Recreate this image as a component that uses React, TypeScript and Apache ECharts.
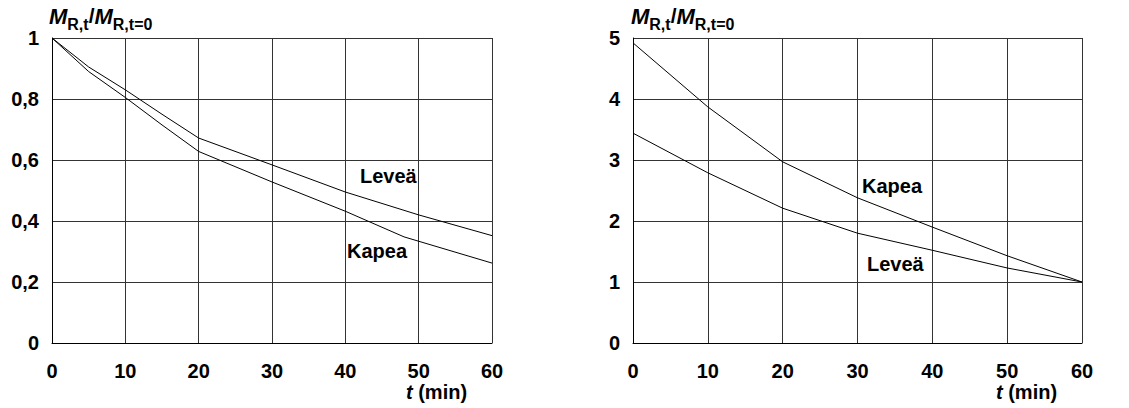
import React, { useEffect, useRef } from "react";
import * as echarts from "echarts";

const xTicks = [0, 10, 20, 30, 40, 50, 60];
const timeLeftLevea = [0, 5, 10, 15, 20, 30, 40, 50, 60];
const leftLevea = [1, 0.905, 0.83, 0.75, 0.672, 0.584, 0.495, 0.42, 0.352];
const timeLeftKapea = [0, 5, 10, 15, 20, 30, 40, 48, 60];
const leftKapea = [1, 0.89, 0.805, 0.715, 0.628, 0.528, 0.432, 0.348, 0.262];
const timeRight = [0, 10, 20, 30, 40, 50, 60];
const rightKapea = [4.92, 3.87, 2.97, 2.38, 1.9, 1.43, 1.0];
const rightLevea = [3.44, 2.79, 2.21, 1.8, 1.52, 1.23, 1.0];

const FONT = "Liberation Sans, Arial, sans-serif";

const pairs = (xs: number[], ys: number[]) => xs.map((x, i) => [x, ys[i]]);

export default function App() {
  const ref = useRef<HTMLDivElement>(null);
  useEffect(() => {
    const chart = echarts.init(ref.current!, null, { renderer: "svg" });
    const xAxisBase = (gridIndex: number) => ({
      type: "value",
      gridIndex,
      min: xTicks[0],
      max: xTicks[xTicks.length - 1],
      interval: xTicks[1] - xTicks[0],
      axisLine: { show: true, lineStyle: { color: "#000", width: 1 } },
      axisTick: { show: false },
      splitLine: { show: true, lineStyle: { color: "#333", width: 1 } },
      axisLabel: { color: "#000", fontFamily: FONT, fontWeight: "bold", fontSize: 20, margin: 18 },
    });
    const yAxisBase = (gridIndex: number, max: number, interval: number, fmt: (v: number) => string) => ({
      type: "value",
      gridIndex,
      min: 0,
      max,
      interval,
      axisLine: { show: true, lineStyle: { color: "#000", width: 1 } },
      axisTick: { show: false },
      splitLine: { show: true, lineStyle: { color: "#333", width: 1 } },
      axisLabel: { color: "#000", fontFamily: FONT, fontWeight: "bold", fontSize: 20, margin: 13, formatter: fmt },
    });
    const lineSeries = (name: string, xi: number, data: number[][]) => ({
      type: "line",
      name,
      xAxisIndex: xi,
      yAxisIndex: xi,
      data,
      showSymbol: false,
      symbol: "none",
      lineStyle: { color: "#000", width: 1 },
    });
    const richYName = {
      M: { fontFamily: FONT, fontStyle: "italic", fontWeight: "bold", fontSize: 22, color: "#000", verticalAlign: "top", lineHeight: 27 },
      s: { fontFamily: FONT, fontWeight: "bold", fontSize: 16, color: "#000", verticalAlign: "bottom", lineHeight: 27 },
      n: { fontFamily: FONT, fontWeight: "bold", fontSize: 21, color: "#000", verticalAlign: "top", lineHeight: 27 },
    };
    const richX = {
      t: { fontFamily: FONT, fontStyle: "italic", fontWeight: "bold", fontSize: 20, color: "#000" },
      n: { fontFamily: FONT, fontWeight: "bold", fontSize: 20, color: "#000" },
    };
    const curveLabel = (text: string, x: number, y: number) => ({
      type: "text",
      left: x,
      top: y,
      style: { text, fontFamily: FONT, fontWeight: "bold", fontSize: 20, fill: "#000" },
    });
    const yName = (x: number) => ({
      type: "text",
      left: x,
      top: 5,
      style: {
        text: "{M|M}{s|R,t}{n|/}{M|M}{s|R,t=0}",
        rich: richYName,
      },
    });
    const xName = (x: number) => ({
      type: "text",
      left: x,
      top: 382,
      style: { text: "{t|t}{n| (min)}", rich: richX },
    });
    chart.setOption({
      animation: false,
      grid: [
        { left: 52, top: 38, width: 440, height: 305 },
        { left: 633, top: 38, width: 449, height: 305 },
      ],
      xAxis: [xAxisBase(0), xAxisBase(1)],
      yAxis: [
        yAxisBase(0, 1, 0.2, (v: number) => (v === 0 || v === 1 ? String(v) : v.toFixed(1).replace(".", ","))),
        yAxisBase(1, 5, 1, (v: number) => String(v)),
      ],
      series: [
        lineSeries("Leveä", 0, pairs(timeLeftLevea, leftLevea)),
        lineSeries("Kapea", 0, pairs(timeLeftKapea, leftKapea)),
        lineSeries("Kapea", 1, pairs(timeRight, rightKapea)),
        lineSeries("Leveä", 1, pairs(timeRight, rightLevea)),
      ],
      graphic: [
        yName(49),
        yName(631),
        xName(406),
        xName(996),
        curveLabel("Leveä", 360, 166),
        curveLabel("Kapea", 347, 241),
        curveLabel("Kapea", 862, 176),
        curveLabel("Leveä", 867, 254),
      ],
    });
    return () => chart.dispose();
  }, []);
  return (
    <div
      ref={ref}
      style={{ position: "absolute", left: 0, top: 0, width: 1129, height: 408, background: "#fff" }}
    />
  );
}
